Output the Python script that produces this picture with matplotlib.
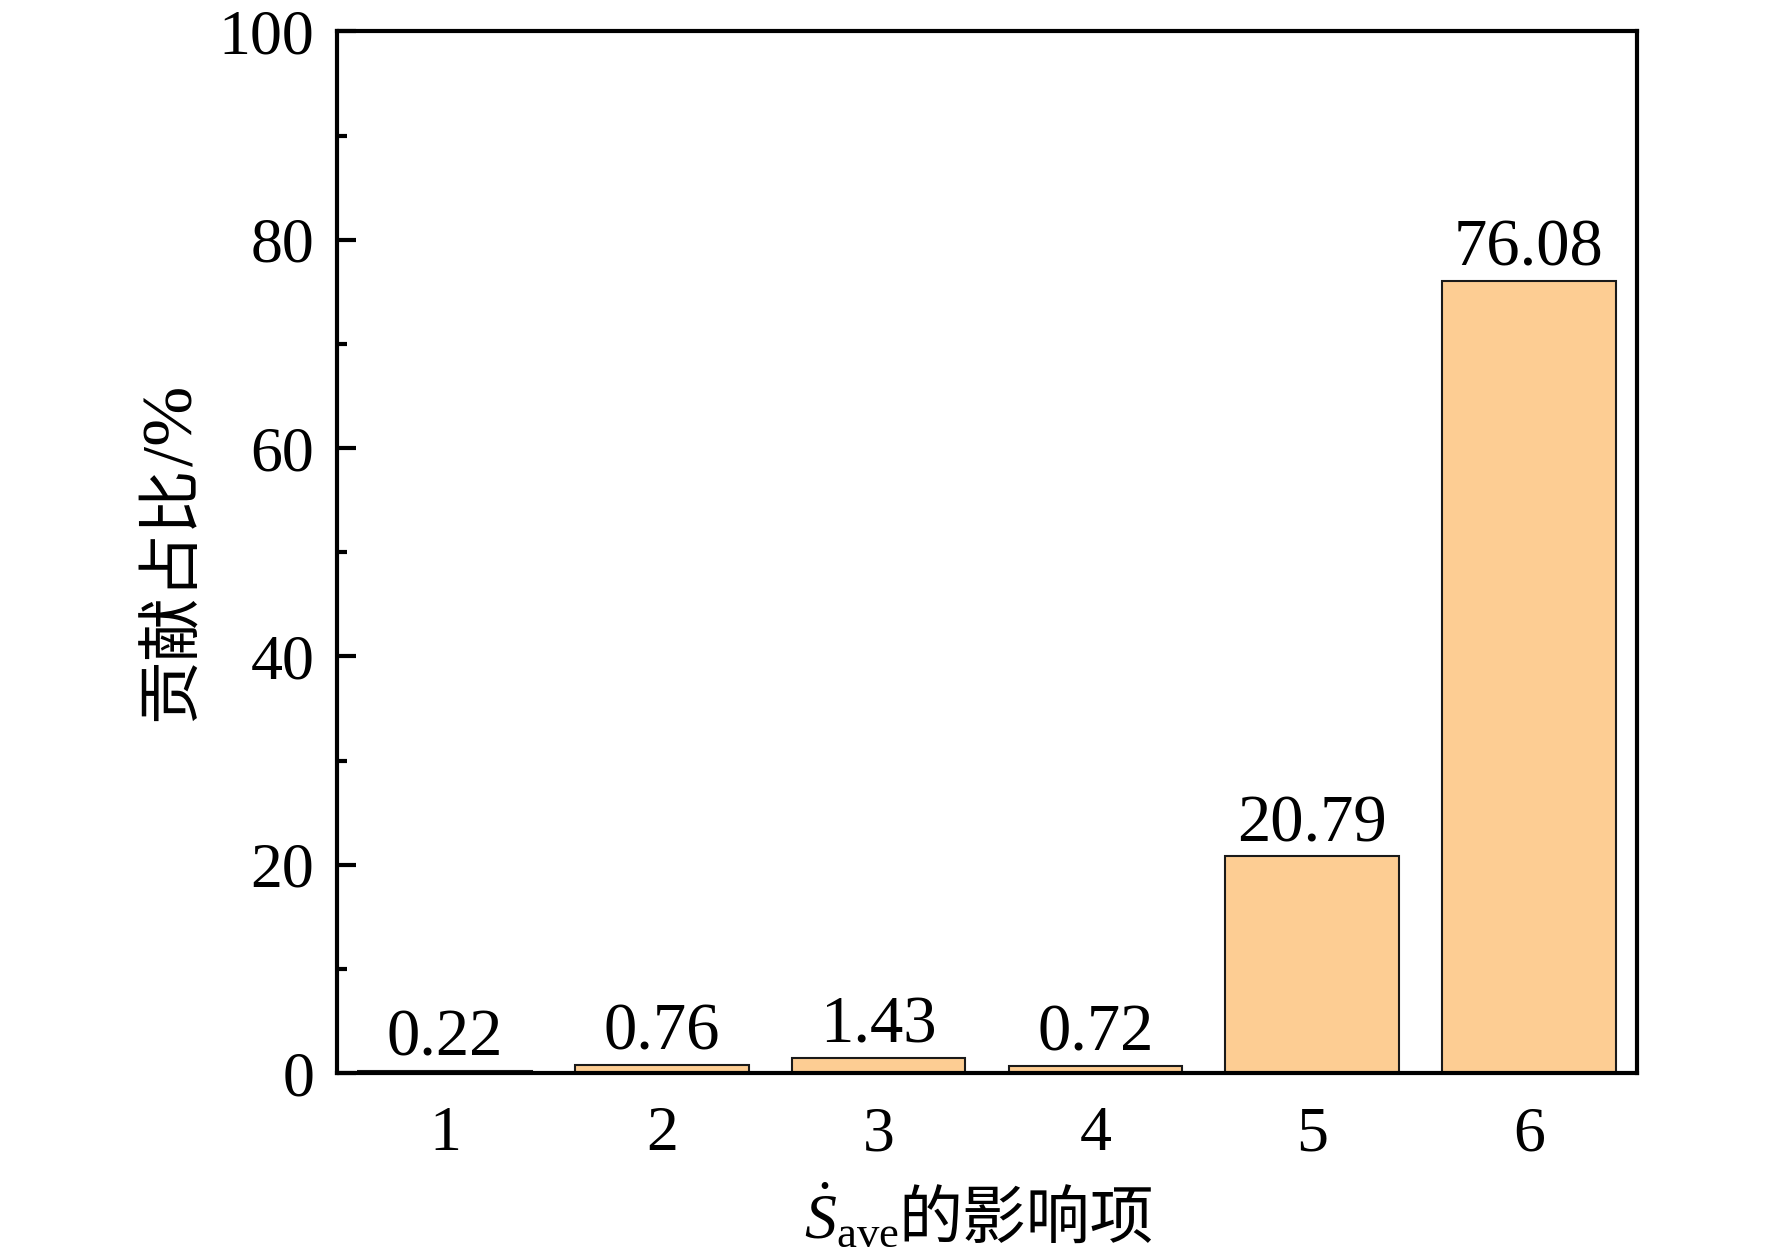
import numpy as np
import matplotlib
matplotlib.use('Agg')
import matplotlib.pyplot as plt
from matplotlib.ticker import MultipleLocator

# Data
items = ['1', '2', '3', '4', '5', '6']
shares = [0.22, 0.76, 1.43, 0.72, 20.79, 76.08]
value_labels = ['0.22', '0.76', '1.43', '0.72', '20.79', '76.08']

# Fonts: Times-like for digits, CJK fallback for Chinese
plt.rcParams['font.family'] = ['Liberation Serif', 'Noto Sans CJK SC']
plt.rcParams['mathtext.fontset'] = 'custom'
plt.rcParams['mathtext.rm'] = 'Liberation Serif'
plt.rcParams['mathtext.it'] = 'Liberation Serif:italic'

fig = plt.figure(figsize=(17.72, 12.55), dpi=100)
ax = fig.add_axes([0.190, 0.145, 0.734, 0.830])

x = np.arange(1, len(items) + 1)
bars = ax.bar(x, shares, width=0.8, color='#FDCD93', edgecolor='#1a1a1a', linewidth=1.5)

for b, lab in zip(bars, value_labels):
    ax.annotate(lab, (b.get_x() + b.get_width() / 2, b.get_height()),
                xytext=(0, 1), textcoords='offset points',
                ha='center', va='bottom', fontsize=48)

ax.set_xlim(0.5, 6.5)
ax.set_ylim(0, 100)
ax.set_xticks(x)
ax.set_xticklabels(items)
ax.yaxis.set_major_locator(MultipleLocator(20))
ax.yaxis.set_minor_locator(MultipleLocator(10))

ax.tick_params(axis='y', which='major', direction='in', length=14, width=3,
               labelsize=46, pad=16)
ax.tick_params(axis='y', which='minor', direction='in', length=7, width=3)
ax.tick_params(axis='x', which='both', length=0, labelsize=46, pad=24)

for s in ax.spines.values():
    s.set_linewidth(3)

# y label: Chinese part + "/%" in serif, stacked vertically
fig.text(0.097, 0.629, '贡献占比', fontsize=46, family=['Noto Sans CJK SC'],
         rotation=90, ha='center', va='top')
fig.text(0.099, 0.629, '/%', fontsize=52, rotation=90, ha='center', va='bottom')

# x label: math symbol + Chinese text drawn side by side
fig.text(0.507, 0.013, r'$\dot{S}_{\mathrm{ave}}$', fontsize=46,
         ha='right', va='baseline')
fig.text(0.507, 0.013, '的影响项', fontsize=46, family=['Noto Sans CJK SC'],
         ha='left', va='baseline')

fig.savefig('out.png', dpi=100)
